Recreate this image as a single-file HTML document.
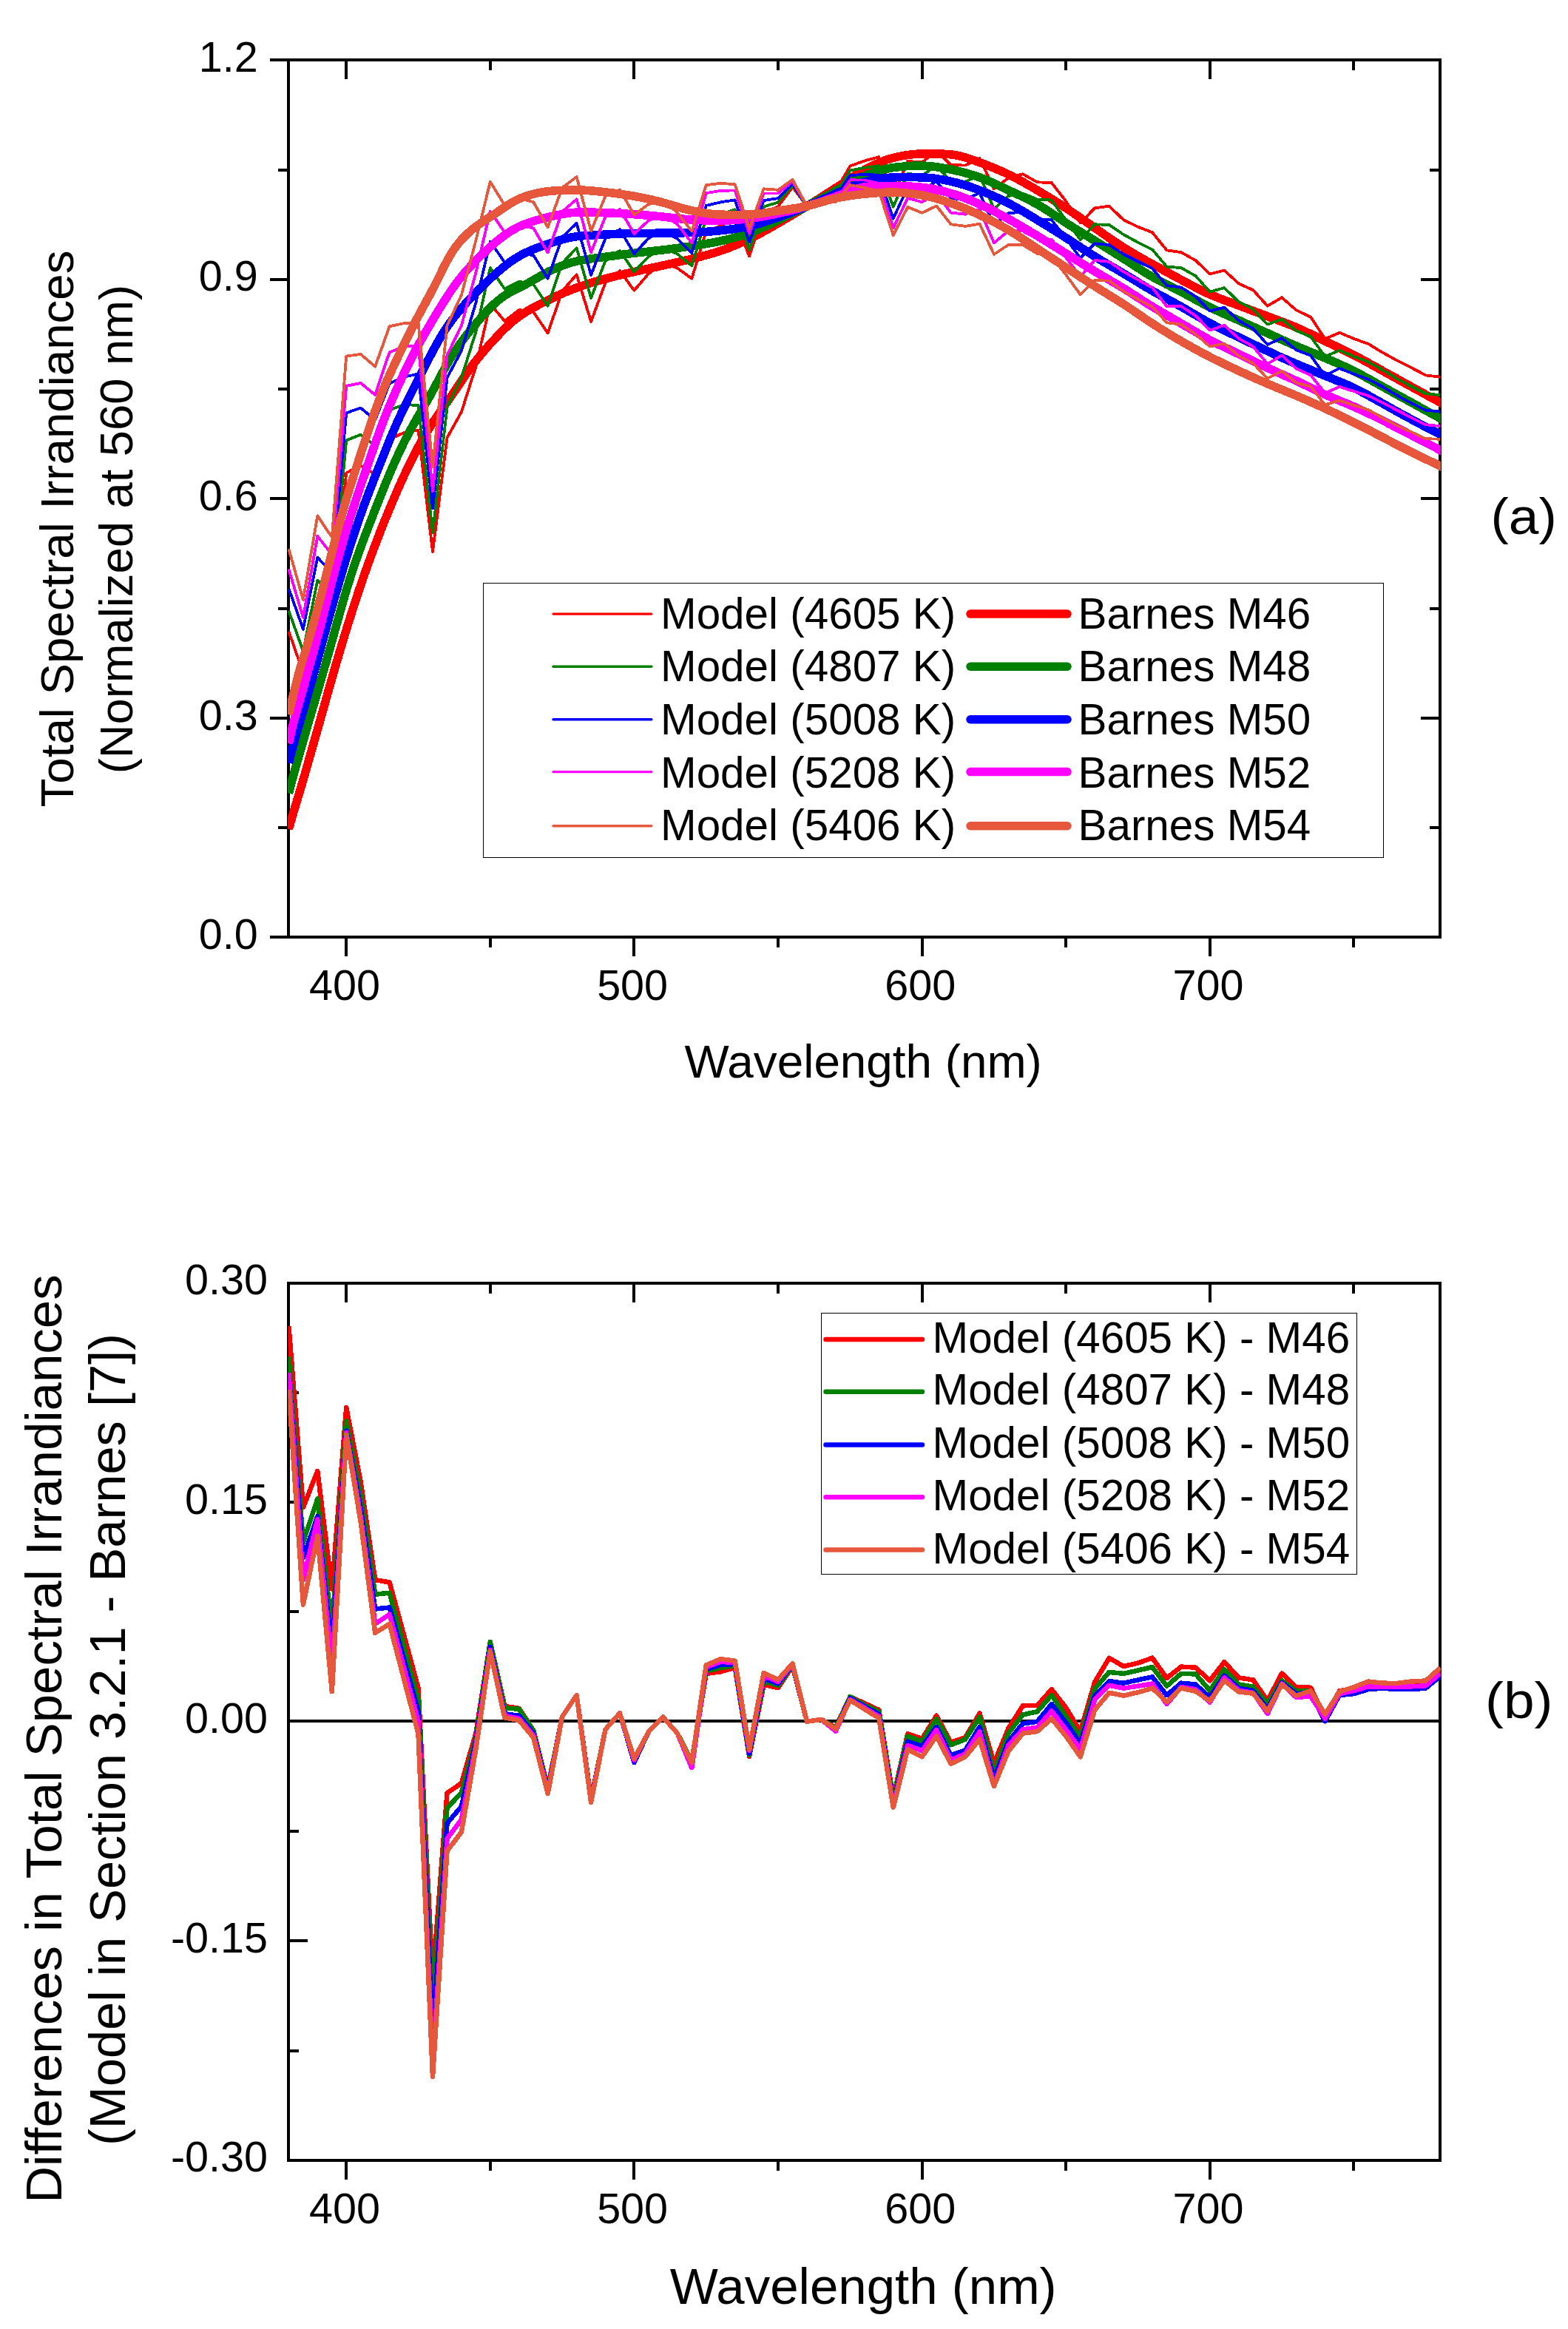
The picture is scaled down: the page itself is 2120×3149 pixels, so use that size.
<!DOCTYPE html>
<html lang="en"><head><meta charset="utf-8"><title>Total Spectral Irradiances</title>
<style>html,body{margin:0;padding:0;background:#fff}svg{display:block}text{font-family:"Liberation Sans", Arial, Helvetica, sans-serif;fill:#000}</style></head><body>
<svg width="2120" height="3149" viewBox="0 0 2120 3149">
<rect width="2120" height="3149" fill="#fff"/>
<defs>
<clipPath id="ca"><rect x="389.0" y="79.2" width="1559.0" height="1190.1"/></clipPath>
<clipPath id="cb"><rect x="389.4" y="1732.6" width="1558.6" height="1190.2000000000003"/></clipPath>
</defs>
<g shape-rendering="crispEdges">
<line x1="365.2" y1="81.2" x2="1949" y2="81.2" stroke="#000" stroke-width="4.0" />
<line x1="365.2" y1="1267.3" x2="1949" y2="1267.3" stroke="#000" stroke-width="4.0" />
<line x1="390" y1="79.2" x2="390" y2="1269.3" stroke="#000" stroke-width="4.0" />
<line x1="1947" y1="79.2" x2="1947" y2="1269.3" stroke="#000" stroke-width="4.0" />
<line x1="468.2" y1="1267.3" x2="468.2" y2="1293.3" stroke="#000" stroke-width="4.0" />
<line x1="468.2" y1="81.2" x2="468.2" y2="107.2" stroke="#000" stroke-width="4.0" />
<line x1="857.4" y1="1267.3" x2="857.4" y2="1293.3" stroke="#000" stroke-width="4.0" />
<line x1="857.4" y1="81.2" x2="857.4" y2="107.2" stroke="#000" stroke-width="4.0" />
<line x1="1246.6" y1="1267.3" x2="1246.6" y2="1293.3" stroke="#000" stroke-width="4.0" />
<line x1="1246.6" y1="81.2" x2="1246.6" y2="107.2" stroke="#000" stroke-width="4.0" />
<line x1="1635.8" y1="1267.3" x2="1635.8" y2="1293.3" stroke="#000" stroke-width="4.0" />
<line x1="1635.8" y1="81.2" x2="1635.8" y2="107.2" stroke="#000" stroke-width="4.0" />
<line x1="662.8" y1="1267.3" x2="662.8" y2="1281.3" stroke="#000" stroke-width="4.0" />
<line x1="662.8" y1="81.2" x2="662.8" y2="95.2" stroke="#000" stroke-width="4.0" />
<line x1="1052" y1="1267.3" x2="1052" y2="1281.3" stroke="#000" stroke-width="4.0" />
<line x1="1052" y1="81.2" x2="1052" y2="95.2" stroke="#000" stroke-width="4.0" />
<line x1="1441.2" y1="1267.3" x2="1441.2" y2="1281.3" stroke="#000" stroke-width="4.0" />
<line x1="1441.2" y1="81.2" x2="1441.2" y2="95.2" stroke="#000" stroke-width="4.0" />
<line x1="1830.4" y1="1267.3" x2="1830.4" y2="1281.3" stroke="#000" stroke-width="4.0" />
<line x1="1830.4" y1="81.2" x2="1830.4" y2="95.2" stroke="#000" stroke-width="4.0" />
<line x1="365.2" y1="970.8" x2="390" y2="970.8" stroke="#000" stroke-width="4.0" />
<line x1="1921" y1="970.8" x2="1947" y2="970.8" stroke="#000" stroke-width="4.0" />
<line x1="365.2" y1="674.2" x2="390" y2="674.2" stroke="#000" stroke-width="4.0" />
<line x1="1921" y1="674.2" x2="1947" y2="674.2" stroke="#000" stroke-width="4.0" />
<line x1="365.2" y1="377.7" x2="390" y2="377.7" stroke="#000" stroke-width="4.0" />
<line x1="1921" y1="377.7" x2="1947" y2="377.7" stroke="#000" stroke-width="4.0" />
<line x1="376" y1="1119" x2="390" y2="1119" stroke="#000" stroke-width="4.0" />
<line x1="1933" y1="1119" x2="1947" y2="1119" stroke="#000" stroke-width="4.0" />
<line x1="376" y1="822.5" x2="390" y2="822.5" stroke="#000" stroke-width="4.0" />
<line x1="1933" y1="822.5" x2="1947" y2="822.5" stroke="#000" stroke-width="4.0" />
<line x1="376" y1="526" x2="390" y2="526" stroke="#000" stroke-width="4.0" />
<line x1="1933" y1="526" x2="1947" y2="526" stroke="#000" stroke-width="4.0" />
<line x1="376" y1="229.5" x2="390" y2="229.5" stroke="#000" stroke-width="4.0" />
<line x1="1933" y1="229.5" x2="1947" y2="229.5" stroke="#000" stroke-width="4.0" />
</g>
<g clip-path="url(#ca)" shape-rendering="crispEdges">
<polyline points="390.4,853.6 409.9,909.7 429.3,817.2 448.8,827.5 468.2,639.4 487.7,629.3 507.2,641.2 526.6,594 546.1,585 565.5,581.6 585,746.1 604.5,591.9 623.9,556.9 643.4,495.8 662.8,411 682.3,434.1 701.8,419 721.2,421.9 740.7,450.4 760.1,393.5 779.6,371.3 799.1,434.9 818.5,382.3 838,366.3 857.4,392.7 876.9,370.1 896.4,355.9 915.8,362.5 935.3,376.7 954.7,312.6 974.2,305.5 993.7,295.4 1013.1,346.6 1032.6,287.9 1052,279.2 1071.5,253 1091,278.8 1110.4,265.2 1129.9,258.1 1149.3,224.6 1168.8,217.4 1188.3,212.2 1207.7,264.8 1227.2,217.8 1246.6,219.5 1266.1,203.9 1285.6,222.9 1305,223.6 1324.5,214.1 1343.9,255.3 1363.4,240.5 1382.9,235.3 1402.3,246.3 1421.8,247.2 1441.2,272 1460.7,301.2 1480.2,281.4 1499.6,278.7 1519.1,297.3 1538.5,306.7 1558,314.2 1577.5,338.4 1596.9,341.2 1616.4,352 1635.8,370.4 1655.3,365.6 1674.8,383.4 1694.2,392.2 1713.7,413.7 1733.1,402.3 1752.6,419.4 1772.1,428.7 1791.5,458.2 1811,449.8 1830.4,457.9 1849.9,464.9 1869.4,476.7 1888.8,487.4 1908.3,497.2 1927.7,507.4 1947.2,509.7" fill="none" stroke="#FF0000" stroke-width="3.8" stroke-linejoin="round" stroke-linecap="butt" />
<polyline points="390.4,1121 394.3,1107 398.2,1093.8 402.1,1080.8 406,1067.7 409.9,1054.5 413.8,1041.1 417.6,1027.6 421.5,1014 425.4,1000.3 429.3,986.5 433.2,972.6 437.1,958.7 441,944.8 444.9,930.9 448.8,917.2 452.7,903.6 456.6,890.3 460.5,877.2 464.3,864.3 468.2,851.6 472.1,839.1 476,826.8 479.9,814.7 483.8,802.8 487.7,791.2 491.6,779.8 495.5,768.7 499.4,757.9 503.3,747.3 507.2,737 511.1,726.8 514.9,716.9 518.8,707.1 522.7,697.6 526.6,688.1 530.5,678.9 534.4,669.7 538.3,660.8 542.2,652 546.1,643.4 550,635.1 553.9,627 557.8,619.2 561.6,611.6 565.5,604.3 569.4,597.3 573.3,590.5 577.2,584 581.1,577.7 585,571.6 588.9,565.8 592.8,560.1 596.7,554.6 600.6,549.1 604.5,543.7 608.4,538.1 612.2,532.5 616.1,526.8 620,521 623.9,515.2 627.8,509.4 631.7,503.8 635.6,498.3 639.5,493 643.4,487.9 647.3,483 651.2,478.3 655.1,473.7 658.9,469.3 662.8,464.9 666.7,460.6 670.6,456.5 674.5,452.4 678.4,448.4 682.3,444.5 686.2,440.8 690.1,437.2 694,433.9 697.9,430.8 701.8,427.9 705.7,425.2 709.5,422.7 713.4,420.3 717.3,418.1 721.2,415.9 725.1,413.8 729,411.8 732.9,409.8 736.8,407.9 740.7,406 744.6,404.1 748.5,402.2 752.4,400.4 756.2,398.6 760.1,396.9 764,395.2 767.9,393.6 771.8,392 775.7,390.5 779.6,389.1 783.5,387.7 787.4,386.3 791.3,385 795.2,383.7 799.1,382.5 803,381.3 806.8,380.2 810.7,379.1 814.6,378 818.5,376.9 822.4,375.9 826.3,374.9 830.2,373.9 834.1,372.9 838,372 841.9,371.1 845.8,370.1 849.7,369.2 853.5,368.4 857.4,367.5 861.3,366.6 865.2,365.7 869.1,364.9 873,364 876.9,363.2 880.8,362.3 884.7,361.5 888.6,360.6 892.5,359.8 896.4,358.9 900.3,358.1 904.1,357.2 908,356.3 911.9,355.5 915.8,354.6 919.7,353.7 923.6,352.8 927.5,351.9 931.4,351 935.3,350 939.2,349 943.1,348.1 947,347.1 950.8,346 954.7,345 958.6,343.9 962.5,342.8 966.4,341.7 970.3,340.4 974.2,339.2 978.1,337.8 982,336.4 985.9,335 989.8,333.4 993.7,331.8 997.6,330.2 1001.4,328.5 1005.3,326.7 1009.2,324.9 1013.1,323.1 1017,321.2 1020.9,319.2 1024.8,317.2 1028.7,315.1 1032.6,312.9 1036.5,310.8 1040.4,308.6 1044.3,306.4 1048.1,304.1 1052,301.9 1055.9,299.7 1059.8,297.4 1063.7,295.1 1067.6,292.9 1071.5,290.6 1075.4,288.2 1079.3,285.9 1083.2,283.6 1087.1,281.2 1091,278.8 1094.9,276.4 1098.7,274 1102.6,271.5 1106.5,269.1 1110.4,266.6 1114.3,264.1 1118.2,261.6 1122.1,259.1 1126,256.6 1129.9,254.1 1133.8,251.6 1137.7,249 1141.6,246.5 1145.4,243.9 1149.3,241.4 1153.2,238.9 1157.1,236.5 1161,234.2 1164.9,232 1168.8,229.8 1172.7,227.7 1176.6,225.7 1180.5,223.8 1184.4,221.9 1188.3,220.2 1192.2,218.5 1196,217 1199.9,215.6 1203.8,214.4 1207.7,213.4 1211.6,212.4 1215.5,211.6 1219.4,210.8 1223.3,210.1 1227.2,209.5 1231.1,209 1235,208.6 1238.9,208.3 1242.7,208 1246.6,207.9 1250.5,207.8 1254.4,207.8 1258.3,207.8 1262.2,207.8 1266.1,207.9 1270,208 1273.9,208.1 1277.8,208.3 1281.7,208.5 1285.6,208.9 1289.5,209.4 1293.3,210 1297.2,210.8 1301.1,211.8 1305,212.9 1308.9,214.1 1312.8,215.4 1316.7,216.8 1320.6,218.2 1324.5,219.6 1328.4,221 1332.3,222.5 1336.2,224 1340,225.5 1343.9,227.1 1347.8,228.8 1351.7,230.5 1355.6,232.2 1359.5,234 1363.4,235.9 1367.3,237.8 1371.2,239.8 1375.1,241.8 1379,243.9 1382.9,246 1386.8,248.2 1390.6,250.4 1394.5,252.6 1398.4,254.9 1402.3,257.2 1406.2,259.5 1410.1,261.8 1414,264.2 1417.9,266.5 1421.8,268.9 1425.7,271.4 1429.6,273.8 1433.5,276.3 1437.3,278.8 1441.2,281.4 1445.1,283.9 1449,286.5 1452.9,289.2 1456.8,291.8 1460.7,294.5 1464.6,297.2 1468.5,299.9 1472.4,302.6 1476.3,305.3 1480.2,308.1 1484.1,310.8 1487.9,313.5 1491.8,316.2 1495.7,319 1499.6,321.7 1503.5,324.3 1507.4,327 1511.3,329.6 1515.2,332.1 1519.1,334.6 1523,337 1526.9,339.4 1530.8,341.7 1534.6,344 1538.5,346.2 1542.4,348.5 1546.3,350.7 1550.2,352.8 1554.1,355 1558,357.1 1561.9,359.3 1565.8,361.4 1569.7,363.6 1573.6,365.7 1577.5,367.8 1581.4,369.9 1585.2,372 1589.1,374.1 1593,376.2 1596.9,378.2 1600.8,380.3 1604.7,382.4 1608.6,384.5 1612.5,386.5 1616.4,388.6 1620.3,390.6 1624.2,392.5 1628.1,394.4 1631.9,396.3 1635.8,398 1639.7,399.7 1643.6,401.3 1647.5,402.9 1651.4,404.4 1655.3,405.9 1659.2,407.3 1663.1,408.7 1667,410.2 1670.9,411.6 1674.8,413.1 1678.7,414.5 1682.5,416 1686.4,417.4 1690.3,418.9 1694.2,420.4 1698.1,421.8 1702,423.3 1705.9,424.8 1709.8,426.2 1713.7,427.7 1717.6,429.2 1721.5,430.6 1725.4,432 1729.2,433.5 1733.1,434.9 1737,436.4 1740.9,437.9 1744.8,439.4 1748.7,441 1752.6,442.7 1756.5,444.4 1760.4,446.1 1764.3,447.9 1768.2,449.8 1772.1,451.6 1776,453.5 1779.8,455.5 1783.7,457.4 1787.6,459.3 1791.5,461.2 1795.4,463.1 1799.3,464.9 1803.2,466.8 1807.1,468.7 1811,470.5 1814.9,472.4 1818.8,474.3 1822.7,476.2 1826.5,478.2 1830.4,480.2 1834.3,482.2 1838.2,484.2 1842.1,486.3 1846,488.4 1849.9,490.6 1853.8,492.7 1857.7,494.9 1861.6,497 1865.5,499.2 1869.4,501.4 1873.3,503.5 1877.1,505.7 1881,507.8 1884.9,510 1888.8,512.1 1892.7,514.3 1896.6,516.5 1900.5,518.6 1904.4,520.8 1908.3,522.9 1912.2,525.1 1916.1,527.2 1920,529.3 1923.8,531.5 1927.7,533.6 1931.6,535.7 1935.5,537.8 1939.4,539.9 1943.3,542 1947.2,544.3 1958.9,551.1" fill="none" stroke="#FF0000" stroke-width="11.5" stroke-linejoin="round" stroke-linecap="butt" />
<polyline points="390.4,825.8 409.9,880.7 429.3,784.7 448.8,805 468.2,595.4 487.7,587.6 507.2,603.2 526.6,554.2 546.1,547.5 565.5,547.7 585,720.3 604.5,550.8 623.9,510.6 643.4,448.8 662.8,362.2 682.3,390.6 701.8,380.5 721.2,384.6 740.7,413.6 760.1,355.8 779.6,335.4 799.1,402.9 818.5,352.7 838,339 857.4,367.4 876.9,347 896.4,334.9 915.8,343.3 935.3,359.3 954.7,295.4 974.2,289.6 993.7,283.3 1013.1,337.7 1032.6,279.6 1052,273.5 1071.5,250.5 1091,278.8 1110.4,267.2 1129.9,262.5 1149.3,230.5 1168.8,226.7 1188.3,224.2 1207.7,279.8 1227.2,234.5 1246.6,237.5 1266.1,223.9 1285.6,244.9 1305,245.8 1324.5,236.9 1343.9,282.5 1363.4,265 1382.9,261.6 1402.3,269.5 1421.8,270.6 1441.2,297.7 1460.7,324.2 1480.2,303.3 1499.6,304 1519.1,317.2 1538.5,327.7 1558,337.4 1577.5,360.6 1596.9,362.1 1616.4,373 1635.8,394.5 1655.3,389.2 1674.8,408 1694.2,418.2 1713.7,438.6 1733.1,431.6 1752.6,447.1 1772.1,455.2 1791.5,482.1 1811,473.7 1830.4,481.8 1849.9,489.2 1869.4,500.1 1888.8,511.9 1908.3,522.5 1927.7,532.2 1947.2,534.1" fill="none" stroke="#008000" stroke-width="3.8" stroke-linejoin="round" stroke-linecap="butt" />
<polyline points="390.4,1072.6 394.3,1057.2 398.2,1042.9 402.1,1029.1 406,1015.5 409.9,1002 413.8,988.5 417.6,975.1 421.5,961.9 425.4,948.6 429.3,935.4 433.2,922 437.1,908.5 441,894.9 444.9,881 448.8,867 452.7,852.9 456.6,838.9 460.5,825.1 464.3,811.5 468.2,798.4 472.1,785.7 476,773.6 479.9,761.9 483.8,750.8 487.7,740 491.6,729.5 495.5,719.2 499.4,709.1 503.3,699.1 507.2,689.2 511.1,679.3 514.9,669.6 518.8,660 522.7,650.5 526.6,641.2 530.5,632.1 534.4,623.3 538.3,614.7 542.2,606.4 546.1,598.4 550,590.7 553.9,583.2 557.8,576.1 561.6,569.2 565.5,562.5 569.4,555.9 573.3,549.3 577.2,542.6 581.1,535.7 585,528.6 588.9,521.3 592.8,514 596.7,506.6 600.6,499.4 604.5,492.5 608.4,485.8 612.2,479.5 616.1,473.5 620,467.8 623.9,462.3 627.8,457.1 631.7,452 635.6,447.1 639.5,442.3 643.4,437.7 647.3,433.1 651.2,428.6 655.1,424.3 658.9,420.1 662.8,416.1 666.7,412.3 670.6,408.7 674.5,405.5 678.4,402.5 682.3,399.7 686.2,397.3 690.1,395 694,392.9 697.9,390.9 701.8,389 705.7,387.1 709.5,385.1 713.4,383.1 717.3,380.9 721.2,378.7 725.1,376.5 729,374.2 732.9,372 736.8,369.9 740.7,367.8 744.6,365.9 748.5,364.1 752.4,362.4 756.2,360.7 760.1,359.2 764,357.7 767.9,356.4 771.8,355.2 775.7,354.2 779.6,353.2 783.5,352.4 787.4,351.6 791.3,351 795.2,350.4 799.1,349.9 803,349.3 806.8,348.8 810.7,348.3 814.6,347.8 818.5,347.3 822.4,346.8 826.3,346.3 830.2,345.8 834.1,345.2 838,344.7 841.9,344.2 845.8,343.7 849.7,343.2 853.5,342.7 857.4,342.2 861.3,341.8 865.2,341.3 869.1,340.9 873,340.5 876.9,340.1 880.8,339.7 884.7,339.2 888.6,338.8 892.5,338.4 896.4,337.9 900.3,337.5 904.1,337 908,336.5 911.9,336 915.8,335.4 919.7,334.9 923.6,334.3 927.5,333.8 931.4,333.2 935.3,332.6 939.2,332 943.1,331.4 947,330.8 950.8,330.2 954.7,329.6 958.6,328.9 962.5,328.2 966.4,327.5 970.3,326.7 974.2,325.9 978.1,325 982,324.1 985.9,323.2 989.8,322.2 993.7,321.1 997.6,320 1001.4,318.9 1005.3,317.6 1009.2,316.3 1013.1,315 1017,313.6 1020.9,312 1024.8,310.4 1028.7,308.8 1032.6,307 1036.5,305.2 1040.4,303.4 1044.3,301.6 1048.1,299.7 1052,297.9 1055.9,296 1059.8,294.2 1063.7,292.3 1067.6,290.4 1071.5,288.5 1075.4,286.6 1079.3,284.7 1083.2,282.8 1087.1,280.8 1091,278.8 1094.9,276.8 1098.7,274.8 1102.6,272.7 1106.5,270.7 1110.4,268.6 1114.3,266.5 1118.2,264.4 1122.1,262.3 1126,260.2 1129.9,258 1133.8,255.9 1137.7,253.7 1141.6,251.6 1145.4,249.4 1149.3,247.3 1153.2,245.2 1157.1,243.2 1161,241.3 1164.9,239.6 1168.8,237.9 1172.7,236.3 1176.6,234.9 1180.5,233.5 1184.4,232.2 1188.3,231 1192.2,229.9 1196,228.9 1199.9,228 1203.8,227.3 1207.7,226.6 1211.6,226.1 1215.5,225.6 1219.4,225.3 1223.3,224.9 1227.2,224.6 1231.1,224.4 1235,224.2 1238.9,224.1 1242.7,224 1246.6,224.1 1250.5,224.2 1254.4,224.4 1258.3,224.7 1262.2,225.2 1266.1,225.7 1270,226.3 1273.9,226.9 1277.8,227.6 1281.7,228.3 1285.6,229.1 1289.5,229.9 1293.3,230.8 1297.2,231.7 1301.1,232.7 1305,233.7 1308.9,234.8 1312.8,236 1316.7,237.2 1320.6,238.5 1324.5,239.9 1328.4,241.4 1332.3,242.9 1336.2,244.5 1340,246.2 1343.9,247.9 1347.8,249.7 1351.7,251.6 1355.6,253.4 1359.5,255.2 1363.4,257.1 1367.3,258.9 1371.2,260.7 1375.1,262.5 1379,264.3 1382.9,266.2 1386.8,268.1 1390.6,270 1394.5,272 1398.4,274.1 1402.3,276.3 1406.2,278.5 1410.1,280.9 1414,283.3 1417.9,285.8 1421.8,288.4 1425.7,291 1429.6,293.6 1433.5,296.2 1437.3,298.7 1441.2,301.3 1445.1,303.8 1449,306.2 1452.9,308.7 1456.8,311.1 1460.7,313.5 1464.6,315.9 1468.5,318.3 1472.4,320.7 1476.3,323.1 1480.2,325.4 1484.1,327.8 1487.9,330.2 1491.8,332.6 1495.7,335 1499.6,337.5 1503.5,339.9 1507.4,342.3 1511.3,344.7 1515.2,347.2 1519.1,349.7 1523,352.2 1526.9,354.7 1530.8,357.2 1534.6,359.8 1538.5,362.3 1542.4,364.8 1546.3,367.3 1550.2,369.7 1554.1,372 1558,374.3 1561.9,376.5 1565.8,378.6 1569.7,380.6 1573.6,382.6 1577.5,384.6 1581.4,386.5 1585.2,388.5 1589.1,390.5 1593,392.5 1596.9,394.5 1600.8,396.6 1604.7,398.7 1608.6,400.8 1612.5,403 1616.4,405.1 1620.3,407.3 1624.2,409.4 1628.1,411.5 1631.9,413.5 1635.8,415.5 1639.7,417.4 1643.6,419.2 1647.5,421 1651.4,422.8 1655.3,424.5 1659.2,426.3 1663.1,428 1667,429.7 1670.9,431.4 1674.8,433.1 1678.7,434.8 1682.5,436.6 1686.4,438.3 1690.3,440 1694.2,441.8 1698.1,443.5 1702,445.3 1705.9,447 1709.8,448.7 1713.7,450.5 1717.6,452.2 1721.5,454 1725.4,455.8 1729.2,457.5 1733.1,459.3 1737,461 1740.9,462.8 1744.8,464.5 1748.7,466.2 1752.6,467.9 1756.5,469.5 1760.4,471.2 1764.3,472.8 1768.2,474.4 1772.1,476 1776,477.6 1779.8,479.2 1783.7,480.8 1787.6,482.4 1791.5,484 1795.4,485.7 1799.3,487.3 1803.2,489 1807.1,490.7 1811,492.4 1814.9,494.2 1818.8,496 1822.7,497.8 1826.5,499.7 1830.4,501.6 1834.3,503.5 1838.2,505.6 1842.1,507.7 1846,509.8 1849.9,511.9 1853.8,514.1 1857.7,516.3 1861.6,518.5 1865.5,520.7 1869.4,522.9 1873.3,525 1877.1,527.2 1881,529.3 1884.9,531.5 1888.8,533.6 1892.7,535.7 1896.6,537.9 1900.5,540 1904.4,542.1 1908.3,544.3 1912.2,546.4 1916.1,548.6 1920,550.7 1923.8,552.8 1927.7,555 1931.6,557.1 1935.5,559.2 1939.4,561.3 1943.3,563.4 1947.2,565.7 1958.9,572.6" fill="none" stroke="#008000" stroke-width="11.5" stroke-linejoin="round" stroke-linecap="butt" />
<polyline points="390.4,795.7 409.9,850.8 429.3,753.9 448.8,773.8 468.2,558.4 487.7,551.5 507.2,568.1 526.6,518.4 546.1,509.7 565.5,505.6 585,687.6 604.5,510.8 623.9,474.2 643.4,409.3 662.8,326.5 682.3,354.7 701.8,342.5 721.2,345.1 740.7,376.7 760.1,320.5 779.6,302 799.1,371.7 818.5,322.4 838,310.3 857.4,343 876.9,322.2 896.4,312.2 915.8,322.9 935.3,342.1 954.7,277.9 974.2,273.4 993.7,270.3 1013.1,327.4 1032.6,271.1 1052,268.1 1071.5,248.1 1091,278.8 1110.4,269.2 1129.9,266.9 1149.3,237.3 1168.8,235.7 1188.3,236.8 1207.7,295.7 1227.2,253.1 1246.6,256.7 1266.1,245.3 1285.6,268 1305,269.8 1324.5,260.9 1343.9,303.9 1363.4,288.2 1382.9,286.9 1402.3,297.3 1421.8,297.4 1441.2,322.3 1460.7,349 1480.2,329.3 1499.6,331.1 1519.1,343.8 1538.5,353.5 1558,363 1577.5,386.1 1596.9,388.6 1616.4,400.8 1635.8,420.6 1655.3,415.7 1674.8,433.4 1694.2,444.4 1713.7,465.9 1733.1,457.2 1752.6,473.2 1772.1,480.7 1791.5,507.9 1811,498.1 1830.4,505.7 1849.9,512.8 1869.4,523 1888.8,534.6 1908.3,545.3 1927.7,554.7 1947.2,556.5" fill="none" stroke="#0000FF" stroke-width="3.8" stroke-linejoin="round" stroke-linecap="butt" />
<polyline points="390.4,1031.6 394.3,1015.9 398.2,1001.5 402.1,987.9 406,974.5 409.9,961.3 413.8,948 417.6,934.5 421.5,920.8 425.4,906.8 429.3,892.6 433.2,878.2 437.1,863.8 441,849.3 444.9,835.1 448.8,821.1 452.7,807.4 456.6,793.9 460.5,780.7 464.3,767.7 468.2,754.9 472.1,742.4 476,730.2 479.9,718.4 483.8,706.9 487.7,695.7 491.6,684.9 495.5,674.4 499.4,664.2 503.3,654.1 507.2,644.2 511.1,634.4 514.9,624.6 518.8,614.8 522.7,605.1 526.6,595.5 530.5,586.1 534.4,577.1 538.3,568.3 542.2,559.9 546.1,551.7 550,543.7 553.9,535.8 557.8,528 561.6,520.3 565.5,512.6 569.4,504.9 573.3,497.3 577.2,489.8 581.1,482.4 585,475 588.9,467.9 592.8,460.9 596.7,454.2 600.6,447.9 604.5,442 608.4,436.4 612.2,431.2 616.1,426.2 620,421.5 623.9,416.9 627.8,412.4 631.7,408.1 635.6,403.9 639.5,399.8 643.4,395.7 647.3,391.8 651.2,388 655.1,384.2 658.9,380.5 662.8,376.9 666.7,373.4 670.6,369.9 674.5,366.5 678.4,363.1 682.3,359.9 686.2,356.9 690.1,354 694,351.3 697.9,348.8 701.8,346.5 705.7,344.3 709.5,342.4 713.4,340.5 717.3,338.8 721.2,337.2 725.1,335.6 729,334.2 732.9,332.7 736.8,331.4 740.7,330 744.6,328.7 748.5,327.4 752.4,326.2 756.2,325 760.1,323.9 764,322.8 767.9,321.9 771.8,321 775.7,320.4 779.6,319.8 783.5,319.3 787.4,318.9 791.3,318.6 795.2,318.4 799.1,318.1 803,317.9 806.8,317.7 810.7,317.5 814.6,317.3 818.5,317.1 822.4,316.9 826.3,316.7 830.2,316.4 834.1,316.2 838,316 841.9,315.8 845.8,315.6 849.7,315.5 853.5,315.4 857.4,315.3 861.3,315.3 865.2,315.3 869.1,315.3 873,315.3 876.9,315.3 880.8,315.3 884.7,315.3 888.6,315.2 892.5,315.2 896.4,315.2 900.3,315.2 904.1,315.2 908,315.1 911.9,315.1 915.8,315 919.7,314.9 923.6,314.8 927.5,314.7 931.4,314.5 935.3,314.4 939.2,314.2 943.1,314.1 947,313.9 950.8,313.6 954.7,313.4 958.6,313.1 962.5,312.8 966.4,312.4 970.3,312.1 974.2,311.7 978.1,311.3 982,310.8 985.9,310.3 989.8,309.8 993.7,309.2 997.6,308.6 1001.4,307.9 1005.3,307.2 1009.2,306.5 1013.1,305.6 1017,304.7 1020.9,303.7 1024.8,302.7 1028.7,301.5 1032.6,300.3 1036.5,299.1 1040.4,297.8 1044.3,296.5 1048.1,295.1 1052,293.8 1055.9,292.4 1059.8,291 1063.7,289.5 1067.6,288.1 1071.5,286.6 1075.4,285.1 1079.3,283.5 1083.2,282 1087.1,280.4 1091,278.8 1094.9,277.2 1098.7,275.6 1102.6,273.9 1106.5,272.2 1110.4,270.6 1114.3,268.9 1118.2,267.2 1122.1,265.4 1126,263.7 1129.9,262 1133.8,260.2 1137.7,258.4 1141.6,256.6 1145.4,254.8 1149.3,253.1 1153.2,251.4 1157.1,249.9 1161,248.4 1164.9,247.1 1168.8,246 1172.7,245 1176.6,244 1180.5,243.2 1184.4,242.5 1188.3,241.8 1192.2,241.2 1196,240.7 1199.9,240.4 1203.8,240.1 1207.7,239.9 1211.6,239.8 1215.5,239.7 1219.4,239.7 1223.3,239.7 1227.2,239.6 1231.1,239.7 1235,239.7 1238.9,239.7 1242.7,239.8 1246.6,239.9 1250.5,240.1 1254.4,240.3 1258.3,240.7 1262.2,241.1 1266.1,241.7 1270,242.3 1273.9,242.9 1277.8,243.7 1281.7,244.4 1285.6,245.3 1289.5,246.2 1293.3,247.1 1297.2,248.2 1301.1,249.3 1305,250.5 1308.9,251.7 1312.8,253 1316.7,254.4 1320.6,255.8 1324.5,257.3 1328.4,258.8 1332.3,260.3 1336.2,261.9 1340,263.6 1343.9,265.3 1347.8,267.1 1351.7,268.9 1355.6,270.8 1359.5,272.7 1363.4,274.7 1367.3,276.8 1371.2,278.9 1375.1,281.1 1379,283.3 1382.9,285.6 1386.8,287.9 1390.6,290.2 1394.5,292.5 1398.4,294.9 1402.3,297.3 1406.2,299.6 1410.1,302 1414,304.4 1417.9,306.8 1421.8,309.2 1425.7,311.6 1429.6,314.1 1433.5,316.5 1437.3,319 1441.2,321.5 1445.1,324 1449,326.5 1452.9,329.1 1456.8,331.6 1460.7,334.2 1464.6,336.8 1468.5,339.3 1472.4,341.8 1476.3,344.3 1480.2,346.7 1484.1,349.1 1487.9,351.5 1491.8,353.8 1495.7,356.1 1499.6,358.4 1503.5,360.7 1507.4,362.9 1511.3,365.2 1515.2,367.5 1519.1,369.8 1523,372.1 1526.9,374.5 1530.8,376.9 1534.6,379.2 1538.5,381.6 1542.4,384 1546.3,386.3 1550.2,388.7 1554.1,390.9 1558,393.2 1561.9,395.4 1565.8,397.6 1569.7,399.7 1573.6,401.8 1577.5,403.9 1581.4,406 1585.2,408.1 1589.1,410.2 1593,412.4 1596.9,414.5 1600.8,416.8 1604.7,419 1608.6,421.3 1612.5,423.6 1616.4,425.9 1620.3,428.2 1624.2,430.5 1628.1,432.7 1631.9,434.9 1635.8,437 1639.7,439 1643.6,441 1647.5,443 1651.4,444.9 1655.3,446.7 1659.2,448.6 1663.1,450.4 1667,452.3 1670.9,454.1 1674.8,456 1678.7,457.8 1682.5,459.7 1686.4,461.6 1690.3,463.5 1694.2,465.4 1698.1,467.2 1702,469.1 1705.9,471 1709.8,472.8 1713.7,474.6 1717.6,476.4 1721.5,478.2 1725.4,480 1729.2,481.8 1733.1,483.5 1737,485.2 1740.9,487 1744.8,488.7 1748.7,490.4 1752.6,492 1756.5,493.7 1760.4,495.3 1764.3,496.9 1768.2,498.5 1772.1,500.1 1776,501.7 1779.8,503.3 1783.7,504.9 1787.6,506.5 1791.5,508.1 1795.4,509.6 1799.3,511.2 1803.2,512.8 1807.1,514.4 1811,515.9 1814.9,517.5 1818.8,519.2 1822.7,520.9 1826.5,522.6 1830.4,524.5 1834.3,526.4 1838.2,528.3 1842.1,530.4 1846,532.5 1849.9,534.6 1853.8,536.8 1857.7,539 1861.6,541.1 1865.5,543.3 1869.4,545.5 1873.3,547.7 1877.1,549.9 1881,552.1 1884.9,554.2 1888.8,556.4 1892.7,558.6 1896.6,560.7 1900.5,562.8 1904.4,564.9 1908.3,567 1912.2,569.1 1916.1,571.2 1920,573.2 1923.8,575.3 1927.7,577.3 1931.6,579.2 1935.5,581.2 1939.4,583.1 1943.3,585.1 1947.2,587.2 1958.9,593.4" fill="none" stroke="#0000FF" stroke-width="11.5" stroke-linejoin="round" stroke-linecap="butt" />
<polyline points="390.4,769.5 409.9,835 429.3,724.9 448.8,750.1 468.2,521.9 487.7,518 507.2,533.9 526.6,476.3 546.1,468.9 565.5,466.8 585,664.3 604.5,480.2 623.9,440.2 643.4,368.5 662.8,285.5 682.3,314.1 701.8,304.4 721.2,308.5 740.7,341.5 760.1,286.1 779.6,269.4 799.1,341.3 818.5,293.1 838,282.9 857.4,316 876.9,298.2 896.4,290 915.8,303.2 935.3,328.4 954.7,261.1 974.2,257.9 993.7,257.4 1013.1,315.3 1032.6,261.4 1052,261.4 1071.5,245.1 1091,278.8 1110.4,271.3 1129.9,272.2 1149.3,243.3 1168.8,243.6 1188.3,248.2 1207.7,308.2 1227.2,268 1246.6,273.1 1266.1,262.1 1285.6,287.5 1305,289.7 1324.5,283 1343.9,328.4 1363.4,312.2 1382.9,312.5 1402.3,322.8 1421.8,323.6 1441.2,348.3 1460.7,373.7 1480.2,352 1499.6,353.8 1519.1,367.4 1538.5,378.3 1558,389 1577.5,414.3 1596.9,414.1 1616.4,427 1635.8,446.6 1655.3,439.8 1674.8,457.7 1694.2,468.6 1713.7,492 1733.1,480.5 1752.6,498.5 1772.1,507.2 1791.5,531.5 1811,522.9 1830.4,529.1 1849.9,535.1 1869.4,544.7 1888.8,554.6 1908.3,564.7 1927.7,574.3 1947.2,576" fill="none" stroke="#FF00FF" stroke-width="3.8" stroke-linejoin="round" stroke-linecap="butt" />
<polyline points="390.4,1005.4 394.3,987.1 398.2,971.8 402.1,958 406,944.5 409.9,930.8 413.8,917 417.6,903.4 421.5,889.8 425.4,875.9 429.3,861.7 433.2,847.1 437.1,832.1 441,816.9 444.9,801.6 448.8,786.5 452.7,771.8 456.6,757.5 460.5,743.7 464.3,730.3 468.2,717.3 472.1,704.6 476,692.2 479.9,680.2 483.8,668.3 487.7,656.6 491.6,645.1 495.5,633.6 499.4,622.2 503.3,611 507.2,599.9 511.1,589 514.9,578.4 518.8,568.1 522.7,558.3 526.6,548.7 530.5,539.5 534.4,530.6 538.3,521.8 542.2,513.4 546.1,505.1 550,497 553.9,489.2 557.8,481.5 561.6,474.1 565.5,466.8 569.4,459.8 573.3,452.9 577.2,446.1 581.1,439.4 585,432.8 588.9,426.2 592.8,419.8 596.7,413.5 600.6,407.2 604.5,401.1 608.4,395.2 612.2,389.5 616.1,384.1 620,378.9 623.9,374 627.8,369.3 631.7,364.8 635.6,360.5 639.5,356.4 643.4,352.3 647.3,348.4 651.2,344.7 655.1,341 658.9,337.4 662.8,333.9 666.7,330.5 670.6,327.2 674.5,324 678.4,321 682.3,318.1 686.2,315.4 690.1,312.8 694,310.5 697.9,308.3 701.8,306.4 705.7,304.6 709.5,303.1 713.4,301.6 717.3,300.3 721.2,299.1 725.1,297.9 729,296.8 732.9,295.8 736.8,294.8 740.7,293.8 744.6,292.9 748.5,292 752.4,291.1 756.2,290.3 760.1,289.5 764,288.8 767.9,288.2 771.8,287.7 775.7,287.4 779.6,287.1 783.5,287 787.4,287 791.3,287 795.2,287 799.1,287.1 803,287.2 806.8,287.3 810.7,287.4 814.6,287.6 818.5,287.7 822.4,287.9 826.3,288 830.2,288.2 834.1,288.4 838,288.6 841.9,288.8 845.8,289 849.7,289.3 853.5,289.5 857.4,289.8 861.3,290.1 865.2,290.3 869.1,290.6 873,291 876.9,291.3 880.8,291.6 884.7,292 888.6,292.3 892.5,292.7 896.4,293.1 900.3,293.5 904.1,294 908,294.4 911.9,294.9 915.8,295.3 919.7,295.8 923.6,296.2 927.5,296.5 931.4,296.8 935.3,297.1 939.2,297.3 943.1,297.5 947,297.7 950.8,297.8 954.7,298 958.6,298.1 962.5,298.2 966.4,298.2 970.3,298.2 974.2,298.2 978.1,298.1 982,298 985.9,297.9 989.8,297.6 993.7,297.4 997.6,297.1 1001.4,296.8 1005.3,296.4 1009.2,296 1013.1,295.5 1017,295 1020.9,294.5 1024.8,293.9 1028.7,293.2 1032.6,292.5 1036.5,291.7 1040.4,290.9 1044.3,290.1 1048.1,289.3 1052,288.4 1055.9,287.6 1059.8,286.7 1063.7,285.8 1067.6,284.9 1071.5,283.9 1075.4,283 1079.3,282 1083.2,280.9 1087.1,279.9 1091,278.8 1094.9,277.6 1098.7,276.4 1102.6,275.2 1106.5,274 1110.4,272.7 1114.3,271.4 1118.2,270 1122.1,268.7 1126,267.2 1129.9,265.8 1133.8,264.3 1137.7,262.8 1141.6,261.2 1145.4,259.6 1149.3,258.1 1153.2,256.7 1157.1,255.4 1161,254.4 1164.9,253.6 1168.8,252.9 1172.7,252.5 1176.6,252.1 1180.5,251.9 1184.4,251.8 1188.3,251.6 1192.2,251.5 1196,251.5 1199.9,251.4 1203.8,251.4 1207.7,251.4 1211.6,251.4 1215.5,251.5 1219.4,251.6 1223.3,251.8 1227.2,251.9 1231.1,252.1 1235,252.4 1238.9,252.6 1242.7,252.9 1246.6,253.3 1250.5,253.8 1254.4,254.3 1258.3,254.9 1262.2,255.6 1266.1,256.4 1270,257.3 1273.9,258.2 1277.8,259.2 1281.7,260.3 1285.6,261.4 1289.5,262.5 1293.3,263.8 1297.2,265.1 1301.1,266.5 1305,267.9 1308.9,269.5 1312.8,271 1316.7,272.7 1320.6,274.4 1324.5,276.1 1328.4,277.9 1332.3,279.7 1336.2,281.6 1340,283.5 1343.9,285.5 1347.8,287.6 1351.7,289.7 1355.6,291.8 1359.5,293.9 1363.4,296.1 1367.3,298.2 1371.2,300.4 1375.1,302.7 1379,304.9 1382.9,307.2 1386.8,309.5 1390.6,311.8 1394.5,314.2 1398.4,316.5 1402.3,318.8 1406.2,321.2 1410.1,323.6 1414,326 1417.9,328.4 1421.8,330.8 1425.7,333.2 1429.6,335.6 1433.5,338 1437.3,340.4 1441.2,342.8 1445.1,345.3 1449,347.7 1452.9,350.1 1456.8,352.5 1460.7,354.9 1464.6,357.4 1468.5,359.8 1472.4,362.2 1476.3,364.5 1480.2,366.9 1484.1,369.2 1487.9,371.5 1491.8,373.8 1495.7,376.1 1499.6,378.3 1503.5,380.6 1507.4,382.9 1511.3,385.2 1515.2,387.6 1519.1,389.9 1523,392.3 1526.9,394.8 1530.8,397.3 1534.6,399.8 1538.5,402.3 1542.4,404.8 1546.3,407.3 1550.2,409.8 1554.1,412.2 1558,414.6 1561.9,417 1565.8,419.3 1569.7,421.6 1573.6,423.9 1577.5,426.1 1581.4,428.3 1585.2,430.6 1589.1,432.8 1593,435 1596.9,437.3 1600.8,439.6 1604.7,441.9 1608.6,444.2 1612.5,446.4 1616.4,448.7 1620.3,451 1624.2,453.2 1628.1,455.4 1631.9,457.6 1635.8,459.7 1639.7,461.7 1643.6,463.7 1647.5,465.6 1651.4,467.5 1655.3,469.4 1659.2,471.3 1663.1,473.1 1667,475 1670.9,476.8 1674.8,478.7 1678.7,480.6 1682.5,482.4 1686.4,484.3 1690.3,486.2 1694.2,488.1 1698.1,490 1702,491.8 1705.9,493.7 1709.8,495.5 1713.7,497.3 1717.6,499.1 1721.5,500.9 1725.4,502.7 1729.2,504.4 1733.1,506.1 1737,507.9 1740.9,509.6 1744.8,511.3 1748.7,513.1 1752.6,514.9 1756.5,516.8 1760.4,518.6 1764.3,520.5 1768.2,522.4 1772.1,524.3 1776,526.2 1779.8,528 1783.7,529.9 1787.6,531.7 1791.5,533.4 1795.4,535.1 1799.3,536.8 1803.2,538.4 1807.1,540.1 1811,541.7 1814.9,543.3 1818.8,544.9 1822.7,546.5 1826.5,548.2 1830.4,549.8 1834.3,551.6 1838.2,553.4 1842.1,555.2 1846,557 1849.9,558.9 1853.8,560.7 1857.7,562.6 1861.6,564.6 1865.5,566.5 1869.4,568.4 1873.3,570.4 1877.1,572.4 1881,574.3 1884.9,576.3 1888.8,578.4 1892.7,580.4 1896.6,582.4 1900.5,584.4 1904.4,586.4 1908.3,588.4 1912.2,590.5 1916.1,592.5 1920,594.5 1923.8,596.5 1927.7,598.5 1931.6,600.5 1935.5,602.5 1939.4,604.4 1943.3,606.5 1947.2,608.6 1958.9,615.1" fill="none" stroke="#FF00FF" stroke-width="11.5" stroke-linejoin="round" stroke-linecap="butt" />
<polyline points="390.4,742.3 409.9,811.1 429.3,697.4 448.8,726.5 468.2,481.5 487.7,479 507.2,495.6 526.6,441.2 546.1,437.2 565.5,435.8 585,631.5 604.5,440.1 623.9,398.9 643.4,325 662.8,245.8 682.3,277.4 701.8,268.2 721.2,273.2 740.7,307.3 760.1,253.9 779.6,239.1 799.1,312.5 818.5,265.2 838,256.5 857.4,290.5 876.9,276.1 896.4,270.9 915.8,287.5 935.3,312.7 954.7,250.2 974.2,247.8 993.7,249.3 1013.1,308.9 1032.6,255.3 1052,256.8 1071.5,242.9 1091,278.6 1110.4,272 1129.9,273.2 1149.3,250.2 1168.8,253.8 1188.3,258.3 1207.7,318.1 1227.2,280 1246.6,287.8 1266.1,278.4 1285.6,303.2 1305,305.9 1324.5,302.7 1343.9,343.9 1363.4,331 1382.9,331.2 1402.3,342.9 1421.8,346.9 1441.2,371.5 1460.7,398.3 1480.2,379.1 1499.6,379.6 1519.1,393.8 1538.5,404.6 1558,414.9 1577.5,436.3 1596.9,438.6 1616.4,451.8 1635.8,468.6 1655.3,464.5 1674.8,481.2 1694.2,491.3 1713.7,511.6 1733.1,501.8 1752.6,517.5 1772.1,522.7 1791.5,547.4 1811,541.4 1830.4,547.9 1849.9,554 1869.4,565.2 1888.8,575.4 1908.3,584.1 1927.7,593.2 1947.2,593.7" fill="none" stroke="#E6573B" stroke-width="3.8" stroke-linejoin="round" stroke-linecap="butt" />
<polyline points="390.4,966.4 394.3,948.9 398.2,932.8 402.1,917.2 406,902.9 409.9,890.1 413.8,877.7 417.6,864.7 421.5,851 425.4,837.2 429.3,823 433.2,808.3 437.1,793.2 441,777.8 444.9,762.3 448.8,746.9 452.7,731.6 456.6,716.8 460.5,702.4 464.3,688.6 468.2,675.3 472.1,662.6 476,650.1 479.9,637.9 483.8,625.9 487.7,613.8 491.6,601.8 495.5,589.9 499.4,578.2 503.3,566.7 507.2,555.6 511.1,545 514.9,534.9 518.8,525.2 522.7,516 526.6,507.1 530.5,498.6 534.4,490.2 538.3,482 542.2,473.9 546.1,466 550,458.1 553.9,450.3 557.8,442.6 561.6,435 565.5,427.5 569.4,420.2 573.3,412.9 577.2,405.8 581.1,398.7 585,391.4 588.9,383.8 592.8,375.9 596.7,368 600.6,360.1 604.5,352.6 608.4,345.7 612.2,339.5 616.1,333.9 620,328.8 623.9,324.2 627.8,320.1 631.7,316.2 635.6,312.7 639.5,309.4 643.4,306.4 647.3,303.6 651.2,300.9 655.1,298.3 658.9,295.7 662.8,293.2 666.7,290.7 670.6,288.1 674.5,285.4 678.4,282.8 682.3,280.1 686.2,277.5 690.1,275.1 694,272.8 697.9,270.8 701.8,268.9 705.7,267.3 709.5,265.9 713.4,264.5 717.3,263.3 721.2,262.3 725.1,261.3 729,260.5 732.9,259.8 736.8,259.2 740.7,258.7 744.6,258.3 748.5,258 752.4,257.7 756.2,257.5 760.1,257.3 764,257.1 767.9,257 771.8,256.9 775.7,256.8 779.6,256.9 783.5,256.9 787.4,257.1 791.3,257.3 795.2,257.5 799.1,257.9 803,258.2 806.8,258.6 810.7,259 814.6,259.4 818.5,259.8 822.4,260.3 826.3,260.7 830.2,261.2 834.1,261.7 838,262.2 841.9,262.8 845.8,263.4 849.7,264 853.5,264.6 857.4,265.3 861.3,266 865.2,266.7 869.1,267.5 873,268.3 876.9,269.1 880.8,270 884.7,271 888.6,271.9 892.5,272.9 896.4,273.9 900.3,275 904.1,276.1 908,277.3 911.9,278.4 915.8,279.6 919.7,280.8 923.6,281.9 927.5,282.9 931.4,283.9 935.3,284.8 939.2,285.6 943.1,286.4 947,287.1 950.8,287.8 954.7,288.4 958.6,288.9 962.5,289.3 966.4,289.7 970.3,289.9 974.2,290.1 978.1,290.2 982,290.3 985.9,290.3 989.8,290.3 993.7,290.3 997.6,290.3 1001.4,290.3 1005.3,290.3 1009.2,290.2 1013.1,290.1 1017,289.9 1020.9,289.6 1024.8,289.2 1028.7,288.8 1032.6,288.2 1036.5,287.6 1040.4,287 1044.3,286.4 1048.1,285.7 1052,285.1 1055.9,284.5 1059.8,283.9 1063.7,283.3 1067.6,282.7 1071.5,282.1 1075.4,281.5 1079.3,280.9 1083.2,280.2 1087.1,279.4 1091,278.6 1094.9,277.7 1098.7,276.7 1102.6,275.6 1106.5,274.5 1110.4,273.4 1114.3,272.2 1118.2,271.1 1122.1,270.1 1126,269.1 1129.9,268.2 1133.8,267.3 1137.7,266.6 1141.6,265.9 1145.4,265.2 1149.3,264.6 1153.2,264 1157.1,263.5 1161,263 1164.9,262.6 1168.8,262.2 1172.7,261.8 1176.6,261.5 1180.5,261.2 1184.4,260.9 1188.3,260.6 1192.2,260.4 1196,260.2 1199.9,260.1 1203.8,260.1 1207.7,260.1 1211.6,260.1 1215.5,260.3 1219.4,260.5 1223.3,260.9 1227.2,261.2 1231.1,261.7 1235,262.2 1238.9,262.7 1242.7,263.3 1246.6,264 1250.5,264.7 1254.4,265.5 1258.3,266.4 1262.2,267.4 1266.1,268.5 1270,269.6 1273.9,270.8 1277.8,272.1 1281.7,273.3 1285.6,274.7 1289.5,276 1293.3,277.5 1297.2,279 1301.1,280.5 1305,282.1 1308.9,283.7 1312.8,285.4 1316.7,287.1 1320.6,288.9 1324.5,290.7 1328.4,292.5 1332.3,294.3 1336.2,296.2 1340,298.2 1343.9,300.2 1347.8,302.2 1351.7,304.3 1355.6,306.5 1359.5,308.7 1363.4,310.9 1367.3,313.3 1371.2,315.7 1375.1,318.1 1379,320.6 1382.9,323.2 1386.8,325.8 1390.6,328.4 1394.5,331 1398.4,333.6 1402.3,336.1 1406.2,338.7 1410.1,341.3 1414,343.8 1417.9,346.4 1421.8,348.9 1425.7,351.5 1429.6,354 1433.5,356.5 1437.3,359.1 1441.2,361.6 1445.1,364.2 1449,366.7 1452.9,369.3 1456.8,371.9 1460.7,374.4 1464.6,377 1468.5,379.5 1472.4,382 1476.3,384.5 1480.2,387 1484.1,389.5 1487.9,391.9 1491.8,394.3 1495.7,396.7 1499.6,399.1 1503.5,401.5 1507.4,403.9 1511.3,406.3 1515.2,408.8 1519.1,411.3 1523,413.8 1526.9,416.4 1530.8,419 1534.6,421.7 1538.5,424.3 1542.4,427 1546.3,429.6 1550.2,432.3 1554.1,434.8 1558,437.4 1561.9,439.9 1565.8,442.4 1569.7,444.8 1573.6,447.2 1577.5,449.6 1581.4,452 1585.2,454.3 1589.1,456.6 1593,458.9 1596.9,461.2 1600.8,463.4 1604.7,465.7 1608.6,467.9 1612.5,470.1 1616.4,472.2 1620.3,474.3 1624.2,476.5 1628.1,478.5 1631.9,480.6 1635.8,482.6 1639.7,484.6 1643.6,486.5 1647.5,488.4 1651.4,490.3 1655.3,492.2 1659.2,494.1 1663.1,495.9 1667,497.7 1670.9,499.5 1674.8,501.4 1678.7,503.2 1682.5,504.9 1686.4,506.7 1690.3,508.5 1694.2,510.2 1698.1,512 1702,513.7 1705.9,515.4 1709.8,517.1 1713.7,518.8 1717.6,520.4 1721.5,522.1 1725.4,523.7 1729.2,525.3 1733.1,526.9 1737,528.5 1740.9,530.1 1744.8,531.7 1748.7,533.3 1752.6,535 1756.5,536.6 1760.4,538.3 1764.3,540 1768.2,541.7 1772.1,543.5 1776,545.2 1779.8,547 1783.7,548.7 1787.6,550.5 1791.5,552.3 1795.4,554.1 1799.3,556 1803.2,557.8 1807.1,559.7 1811,561.5 1814.9,563.4 1818.8,565.3 1822.7,567.2 1826.5,569.2 1830.4,571.1 1834.3,573.1 1838.2,575.1 1842.1,577.1 1846,579.1 1849.9,581.1 1853.8,583.1 1857.7,585.1 1861.6,587.2 1865.5,589.2 1869.4,591.2 1873.3,593.2 1877.1,595.3 1881,597.3 1884.9,599.3 1888.8,601.3 1892.7,603.3 1896.6,605.3 1900.5,607.3 1904.4,609.3 1908.3,611.2 1912.2,613.2 1916.1,615.1 1920,617 1923.8,618.9 1927.7,620.7 1931.6,622.6 1935.5,624.4 1939.4,626.2 1943.3,628 1947.2,630 1958.9,635.8" fill="none" stroke="#E6573B" stroke-width="11.5" stroke-linejoin="round" stroke-linecap="butt" />
</g>
<text x="348.8" y="1283" font-size="57.5" text-anchor="end" >0.0</text>
<text x="348.8" y="986.5" font-size="57.5" text-anchor="end" >0.3</text>
<text x="348.8" y="690" font-size="57.5" text-anchor="end" >0.6</text>
<text x="348.8" y="393.4" font-size="57.5" text-anchor="end" >0.9</text>
<text x="348.8" y="96.9" font-size="57.5" text-anchor="end" >1.2</text>
<text x="465.9" y="1352.2" font-size="57.5" text-anchor="middle" >400</text>
<text x="855.1" y="1352.2" font-size="57.5" text-anchor="middle" >500</text>
<text x="1244.3" y="1352.2" font-size="57.5" text-anchor="middle" >600</text>
<text x="1633.5" y="1352.2" font-size="57.5" text-anchor="middle" >700</text>
<text x="1167.2" y="1456.6" font-size="63.8" text-anchor="middle" >Wavelength (nm)</text>
<text transform="translate(99,715) rotate(-90)" font-size="63.6" text-anchor="middle">Total Spectral Irrandiances</text>
<text transform="translate(178.7,715.6) rotate(-90)" font-size="63.3" text-anchor="middle">(Normalized at 560 nm)</text>
<text transform="translate(2015.5,722) scale(1.075,1)" font-size="68">(a)</text>
<rect x="653" y="788" width="1217.5" height="371.5" fill="#fff" stroke="#000" stroke-width="1" shape-rendering="crispEdges"/>
<line x1="748" y1="830.1" x2="880.8" y2="830.1" stroke="#FF0000" stroke-width="3.4" stroke-linecap="round"/>
<text x="893" y="850.3" font-size="58.4" text-anchor="start" >Model (4605 K)</text>
<line x1="1312" y1="830.1" x2="1443" y2="830.1" stroke="#FF0000" stroke-width="11.5" stroke-linecap="round"/>
<text x="1457.5" y="850.3" font-size="58.4" text-anchor="start" >Barnes M46</text>
<line x1="748" y1="901.3" x2="880.8" y2="901.3" stroke="#008000" stroke-width="3.4" stroke-linecap="round"/>
<text x="893" y="921.4" font-size="58.4" text-anchor="start" >Model (4807 K)</text>
<line x1="1312" y1="901.3" x2="1443" y2="901.3" stroke="#008000" stroke-width="11.5" stroke-linecap="round"/>
<text x="1457.5" y="921.4" font-size="58.4" text-anchor="start" >Barnes M48</text>
<line x1="748" y1="972.8" x2="880.8" y2="972.8" stroke="#0000FF" stroke-width="3.4" stroke-linecap="round"/>
<text x="893" y="993.4" font-size="58.4" text-anchor="start" >Model (5008 K)</text>
<line x1="1312" y1="972.8" x2="1443" y2="972.8" stroke="#0000FF" stroke-width="11.5" stroke-linecap="round"/>
<text x="1457.5" y="993.4" font-size="58.4" text-anchor="start" >Barnes M50</text>
<line x1="748" y1="1043.6" x2="880.8" y2="1043.6" stroke="#FF00FF" stroke-width="3.4" stroke-linecap="round"/>
<text x="893" y="1064.6" font-size="58.4" text-anchor="start" >Model (5208 K)</text>
<line x1="1312" y1="1043.6" x2="1443" y2="1043.6" stroke="#FF00FF" stroke-width="11.5" stroke-linecap="round"/>
<text x="1457.5" y="1064.6" font-size="58.4" text-anchor="start" >Barnes M52</text>
<line x1="748" y1="1116.8" x2="880.8" y2="1116.8" stroke="#E6573B" stroke-width="3.4" stroke-linecap="round"/>
<text x="893" y="1135.8" font-size="58.4" text-anchor="start" >Model (5406 K)</text>
<line x1="1312" y1="1116.8" x2="1443" y2="1116.8" stroke="#E6573B" stroke-width="11.5" stroke-linecap="round"/>
<text x="1457.5" y="1135.8" font-size="58.4" text-anchor="start" >Barnes M54</text>
<g shape-rendering="crispEdges">
<line x1="388.4" y1="1734.6" x2="1949" y2="1734.6" stroke="#000" stroke-width="4.0" />
<line x1="388.4" y1="2920.8" x2="1949" y2="2920.8" stroke="#000" stroke-width="4.0" />
<line x1="390.4" y1="1732.6" x2="390.4" y2="2922.8" stroke="#000" stroke-width="4.0" />
<line x1="1947" y1="1732.6" x2="1947" y2="2922.8" stroke="#000" stroke-width="4.0" />
<line x1="468.2" y1="2920.8" x2="468.2" y2="2946.8" stroke="#000" stroke-width="4.0" />
<line x1="468.2" y1="1734.6" x2="468.2" y2="1760.6" stroke="#000" stroke-width="4.0" />
<line x1="857.4" y1="2920.8" x2="857.4" y2="2946.8" stroke="#000" stroke-width="4.0" />
<line x1="857.4" y1="1734.6" x2="857.4" y2="1760.6" stroke="#000" stroke-width="4.0" />
<line x1="1246.6" y1="2920.8" x2="1246.6" y2="2946.8" stroke="#000" stroke-width="4.0" />
<line x1="1246.6" y1="1734.6" x2="1246.6" y2="1760.6" stroke="#000" stroke-width="4.0" />
<line x1="1635.8" y1="2920.8" x2="1635.8" y2="2946.8" stroke="#000" stroke-width="4.0" />
<line x1="1635.8" y1="1734.6" x2="1635.8" y2="1760.6" stroke="#000" stroke-width="4.0" />
<line x1="662.8" y1="2920.8" x2="662.8" y2="2934.8" stroke="#000" stroke-width="4.0" />
<line x1="662.8" y1="1734.6" x2="662.8" y2="1748.6" stroke="#000" stroke-width="4.0" />
<line x1="1052" y1="2920.8" x2="1052" y2="2934.8" stroke="#000" stroke-width="4.0" />
<line x1="1052" y1="1734.6" x2="1052" y2="1748.6" stroke="#000" stroke-width="4.0" />
<line x1="1441.2" y1="2920.8" x2="1441.2" y2="2934.8" stroke="#000" stroke-width="4.0" />
<line x1="1441.2" y1="1734.6" x2="1441.2" y2="1748.6" stroke="#000" stroke-width="4.0" />
<line x1="1830.4" y1="2920.8" x2="1830.4" y2="2934.8" stroke="#000" stroke-width="4.0" />
<line x1="1830.4" y1="1734.6" x2="1830.4" y2="1748.6" stroke="#000" stroke-width="4.0" />
<line x1="390.4" y1="2624.2" x2="416.4" y2="2624.2" stroke="#000" stroke-width="4.0" />
<line x1="390.4" y1="2031.1" x2="416.4" y2="2031.1" stroke="#000" stroke-width="4.0" />
<line x1="390.4" y1="2772.5" x2="404.4" y2="2772.5" stroke="#000" stroke-width="4.0" />
<line x1="390.4" y1="2476" x2="404.4" y2="2476" stroke="#000" stroke-width="4.0" />
<line x1="390.4" y1="2179.4" x2="404.4" y2="2179.4" stroke="#000" stroke-width="4.0" />
<line x1="390.4" y1="1882.9" x2="404.4" y2="1882.9" stroke="#000" stroke-width="4.0" />
</g>
<line x1="390.4" y1="2327.2" x2="1947" y2="2327.2" stroke="#000" stroke-width="4" shape-rendering="crispEdges"/>
<g clip-path="url(#cb)" shape-rendering="crispEdges">
<polyline points="390.4,1792.9 409.9,2038.1 429.3,1989 448.8,2148.4 468.2,1903.2 487.7,2003.9 507.2,2136.1 526.6,2139.5 546.1,2210.9 565.5,2282.2 585,2676.6 604.5,2424.2 623.9,2411.1 643.4,2343.5 662.8,2220 682.3,2306.9 701.8,2309.9 721.2,2339.6 740.7,2416.7 760.1,2321 779.6,2292.1 799.1,2432.5 818.5,2338.4 838,2316.2 857.4,2378.1 876.9,2341.5 896.4,2321.6 915.8,2343.5 935.3,2381.1 954.7,2262.9 974.2,2260.3 993.7,2254.7 1013.1,2374.8 1032.6,2277.7 1052,2282.2 1071.5,2252.6 1091,2327.7 1110.4,2324.9 1129.9,2335.6 1149.3,2294.1 1168.8,2303 1188.3,2311.9 1207.7,2430.5 1227.2,2344.3 1246.6,2351 1266.1,2319.8 1285.6,2355.8 1305,2349.1 1324.5,2316.6 1343.9,2384 1363.4,2337 1382.9,2306.3 1402.3,2306 1421.8,2284.2 1441.2,2308.9 1460.7,2341.1 1480.2,2274.3 1499.6,2241.7 1519.1,2253 1538.5,2248.6 1558,2241.7 1577.5,2269 1596.9,2253.6 1616.4,2254.6 1635.8,2272.3 1655.3,2247.2 1674.8,2268.4 1694.2,2271.4 1713.7,2299.6 1733.1,2262.5 1752.6,2281.2 1772.1,2281.8 1791.5,2321.8 1811,2286.2 1830.4,2283.2 1849.9,2276.3 1869.4,2278.3 1888.8,2278.3 1908.3,2276.3 1927.7,2275.3 1947.2,2258.5" fill="none" stroke="#FF0000" stroke-width="6.5" stroke-linejoin="round" stroke-linecap="butt" />
<polyline points="390.4,1834 409.9,2085.1 429.3,2026.4 448.8,2203.7 468.2,1921.6 487.7,2022.8 507.2,2155.7 526.6,2153.7 546.1,2225.9 565.5,2298 585,2711.2 604.5,2444.3 623.9,2424.2 643.4,2349.9 662.8,2220 682.3,2309.5 701.8,2310.7 721.2,2339.6 740.7,2419.2 760.1,2321 779.6,2292.1 799.1,2433.8 818.5,2338.4 838,2316.2 857.4,2378.1 876.9,2341.5 896.4,2321.6 915.8,2343.5 935.3,2381.1 954.7,2259.4 974.2,2255.1 993.7,2252 1013.1,2373.2 1032.6,2272.9 1052,2278.9 1071.5,2251.6 1091,2327.7 1110.4,2324.9 1129.9,2336.6 1149.3,2294.1 1168.8,2305.4 1188.3,2314.3 1207.7,2434.1 1227.2,2347.5 1246.6,2354.6 1266.1,2324.1 1285.6,2359.3 1305,2351.8 1324.5,2321.8 1343.9,2396.9 1363.4,2343.5 1382.9,2318.4 1402.3,2314.3 1421.8,2292.1 1441.2,2320.5 1460.7,2349.1 1480.2,2283.4 1499.6,2260.9 1519.1,2262.9 1538.5,2258.5 1558,2254 1577.5,2279.7 1596.9,2262.9 1616.4,2263.4 1635.8,2285.8 1655.3,2256.9 1674.8,2277.5 1694.2,2280.6 1713.7,2304 1733.1,2272.3 1752.6,2286.2 1772.1,2286.2 1791.5,2323.7 1811,2290.1 1830.4,2288.2 1849.9,2282.2 1869.4,2282.2 1888.8,2284.2 1908.3,2284.2 1927.7,2282.2 1947.2,2264.4" fill="none" stroke="#008000" stroke-width="6.5" stroke-linejoin="round" stroke-linecap="butt" />
<polyline points="390.4,1856 409.9,2106.7 429.3,2050.3 448.8,2233 468.2,1934.7 487.7,2039.3 507.2,2175.5 526.6,2173.5 546.1,2243.7 565.5,2313.9 585,2752.8 604.5,2465.3 623.9,2442.4 643.4,2354.8 662.8,2226.9 682.3,2317.2 701.8,2319.8 721.2,2343.5 740.7,2421.1 760.1,2321 779.6,2292.1 799.1,2434.9 818.5,2338.4 838,2316.2 857.4,2383.1 876.9,2341.5 896.4,2321.6 915.8,2343.5 935.3,2383.1 954.7,2256.8 974.2,2251.2 993.7,2249.9 1013.1,2371.2 1032.6,2269.3 1052,2276.4 1071.5,2250.8 1091,2327.7 1110.4,2324.9 1129.9,2337.6 1149.3,2296.1 1168.8,2307.2 1188.3,2317.8 1207.7,2439.4 1227.2,2354.6 1246.6,2361.3 1266.1,2335 1285.6,2373.2 1305,2366.4 1324.5,2335 1343.9,2404.8 1363.4,2354.6 1382.9,2330.5 1402.3,2327.7 1421.8,2304.2 1441.2,2329.4 1460.7,2357.4 1480.2,2292.9 1499.6,2273.1 1519.1,2275.7 1538.5,2271.4 1558,2267.4 1577.5,2292.1 1596.9,2275.7 1616.4,2277.5 1635.8,2294.9 1655.3,2265.6 1674.8,2282.6 1694.2,2285.8 1713.7,2310.3 1733.1,2275.1 1752.6,2290.1 1772.1,2288.8 1791.5,2327.3 1811,2292.1 1830.4,2290.1 1849.9,2284.2 1869.4,2282.6 1888.8,2284.2 1908.3,2284.2 1927.7,2282.6 1947.2,2266.4" fill="none" stroke="#0000FF" stroke-width="6.5" stroke-linejoin="round" stroke-linecap="butt" />
<polyline points="390.4,1856 409.9,2135.9 429.3,2054.1 448.8,2254.9 468.2,1936.8 487.7,2050.5 507.2,2195.8 526.6,2182.8 546.1,2255.2 565.5,2327.7 585,2790.9 604.5,2485.9 623.9,2460.2 643.4,2360 662.8,2230.8 682.3,2319.8 701.8,2323.7 721.2,2346.5 740.7,2423.1 760.1,2321 779.6,2292.1 799.1,2436 818.5,2338.4 838,2316.2 857.4,2380.1 876.9,2341.5 896.4,2321.6 915.8,2343.5 935.3,2390.2 954.7,2254 974.2,2247 993.7,2247.7 1013.1,2367.2 1032.6,2265.5 1052,2273.7 1071.5,2250 1091,2327.7 1110.4,2324.9 1129.9,2340.6 1149.3,2298 1168.8,2309.1 1188.3,2320.8 1207.7,2441.4 1227.2,2359.9 1246.6,2367.2 1266.1,2339 1285.6,2379.9 1305,2371.2 1324.5,2341.5 1343.9,2413.5 1363.4,2359.9 1382.9,2338.4 1402.3,2335.6 1421.8,2313.5 1441.2,2338.6 1460.7,2365.3 1480.2,2298 1499.6,2278.7 1519.1,2282.6 1538.5,2279.7 1558,2276.5 1577.5,2304 1596.9,2281.2 1616.4,2284.2 1635.8,2301.6 1655.3,2268.4 1674.8,2285.8 1694.2,2288.8 1713.7,2317 1733.1,2276.5 1752.6,2294.9 1772.1,2293.5 1791.5,2323.7 1811,2290.1 1830.4,2286.2 1849.9,2280.3 1869.4,2280.3 1888.8,2280.3 1908.3,2280.3 1927.7,2279.3 1947.2,2262.5" fill="none" stroke="#FF00FF" stroke-width="6.5" stroke-linejoin="round" stroke-linecap="butt" />
<polyline points="390.4,1879.3 409.9,2169.5 429.3,2076.6 448.8,2287 468.2,1940 487.7,2058 507.2,2207.7 526.6,2195.8 546.1,2270.1 565.5,2344.3 585,2808.1 604.5,2502.7 623.9,2477 643.4,2364.9 662.8,2232.8 682.3,2322.4 701.8,2326.1 721.2,2349.4 740.7,2425 760.1,2321 779.6,2292.1 799.1,2437 818.5,2338.4 838,2316.2 857.4,2378.1 876.9,2341.5 896.4,2321.6 915.8,2343.5 935.3,2383.5 954.7,2251.4 974.2,2243.1 993.7,2245.7 1013.1,2365.3 1032.6,2261.9 1052,2271.2 1071.5,2249.2 1091,2327.7 1110.4,2324.9 1129.9,2337.8 1149.3,2298.8 1168.8,2310.9 1188.3,2323 1207.7,2443.7 1227.2,2365.3 1246.6,2375.3 1266.1,2347.5 1285.6,2384.8 1305,2375.3 1324.5,2351.8 1343.9,2415.1 1363.4,2367.8 1382.9,2343.7 1402.3,2341.1 1421.8,2323.7 1441.2,2347.5 1460.7,2375.3 1480.2,2311.9 1499.6,2288.8 1519.1,2292.7 1538.5,2288.2 1558,2282.6 1577.5,2301 1596.9,2282.6 1616.4,2286.8 1635.8,2299.6 1655.3,2272.3 1674.8,2287.4 1694.2,2289.7 1713.7,2313.3 1733.1,2277.5 1752.6,2292.7 1772.1,2286.2 1791.5,2317.8 1811,2287.4 1830.4,2281.2 1849.9,2273.5 1869.4,2275.7 1888.8,2275.9 1908.3,2273.5 1927.7,2272.5 1947.2,2255.1" fill="none" stroke="#E6573B" stroke-width="6.5" stroke-linejoin="round" stroke-linecap="butt" />
</g>
<text x="362" y="2936.4" font-size="57.5" text-anchor="end" >-0.30</text>
<text x="362" y="2639.8" font-size="57.5" text-anchor="end" >-0.15</text>
<text x="362" y="2343.3" font-size="57.5" text-anchor="end" >0.00</text>
<text x="362" y="2046.7" font-size="57.5" text-anchor="end" >0.15</text>
<text x="362" y="1750.2" font-size="57.5" text-anchor="end" >0.30</text>
<text x="465.9" y="3006.2" font-size="57.5" text-anchor="middle" >400</text>
<text x="855.1" y="3006.2" font-size="57.5" text-anchor="middle" >500</text>
<text x="1244.3" y="3006.2" font-size="57.5" text-anchor="middle" >600</text>
<text x="1633.5" y="3006.2" font-size="57.5" text-anchor="middle" >700</text>
<text x="1167.2" y="3114.7" font-size="69" text-anchor="middle" >Wavelength (nm)</text>
<text transform="translate(83,2351) rotate(-90)" font-size="69" text-anchor="middle">Differences in Total Spectral Irrandiances</text>
<text transform="translate(169,2352) rotate(-90)" font-size="68.6" text-anchor="middle">(Model in Section 3.2.1 - Barnes [7])</text>
<text transform="translate(2008,2322.5) scale(1.10,1)" font-size="68">(b)</text>
<rect x="1110.4" y="1775.2" width="723.6" height="352.8" fill="#fff" stroke="#000" stroke-width="1" shape-rendering="crispEdges"/>
<line x1="1116.5" y1="1811" x2="1247" y2="1811" stroke="#FF0000" stroke-width="6.5" stroke-linecap="round"/>
<text x="1260.5" y="1828.5" font-size="58.4" text-anchor="start" >Model (4605 K) - M46</text>
<line x1="1116.5" y1="1881.8" x2="1247" y2="1881.8" stroke="#008000" stroke-width="6.5" stroke-linecap="round"/>
<text x="1260.5" y="1899.3" font-size="58.4" text-anchor="start" >Model (4807 K) - M48</text>
<line x1="1116.5" y1="1953.6" x2="1247" y2="1953.6" stroke="#0000FF" stroke-width="6.5" stroke-linecap="round"/>
<text x="1260.5" y="1970.5" font-size="58.4" text-anchor="start" >Model (5008 K) - M50</text>
<line x1="1116.5" y1="2024.3" x2="1247" y2="2024.3" stroke="#FF00FF" stroke-width="6.5" stroke-linecap="round"/>
<text x="1260.5" y="2041.8" font-size="58.4" text-anchor="start" >Model (5208 K) - M52</text>
<line x1="1116.5" y1="2095.6" x2="1247" y2="2095.6" stroke="#E6573B" stroke-width="6.5" stroke-linecap="round"/>
<text x="1260.5" y="2113.5" font-size="58.4" text-anchor="start" >Model (5406 K) - M54</text>
</svg></body></html>
